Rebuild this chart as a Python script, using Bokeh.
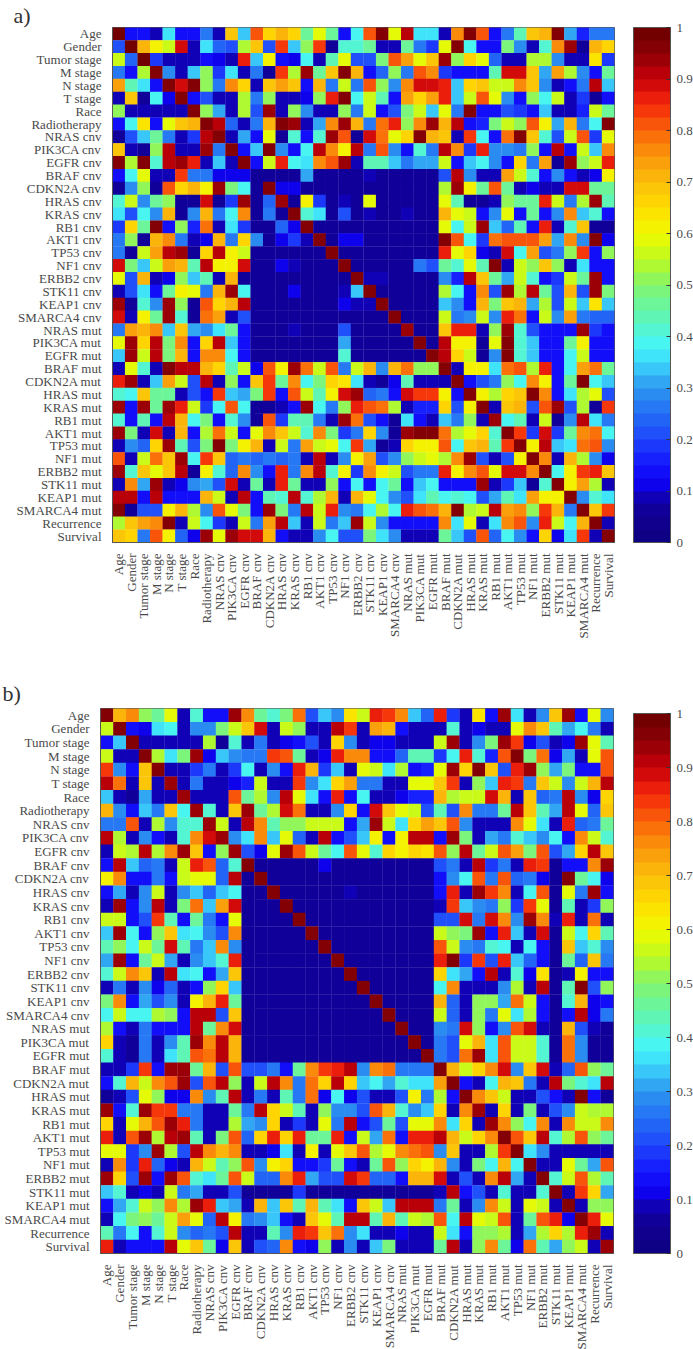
import math
from bokeh.embed import file_html
from bokeh.resources import INLINE
from bokeh.plotting import figure
from bokeh.layouts import column
from bokeh.models import (ColumnDataSource, FactorRange, LinearColorMapper, ColorBar,
                          FixedTicker, Title)

labels = ["Age", "Gender", "Tumor stage", "M stage", "N stage", "T stage", "Race", "Radiotherapy",
          "NRAS cnv", "PIK3CA cnv", "EGFR cnv", "BRAF cnv", "CDKN2A cnv", "HRAS cnv", "KRAS cnv",
          "RB1 cnv", "AKT1 cnv", "TP53 cnv", "NF1 cnv", "ERBB2 cnv", "STK11 cnv", "KEAP1 cnv",
          "SMARCA4 cnv", "NRAS mut", "PIK3CA mut", "EGFR mut", "BRAF mut", "CDKN2A mut", "HRAS mut",
          "KRAS mut", "RB1 mut", "AKT1 mut", "TP53 mut", "NF1 mut", "ERBB2 mut", "STK11 mut",
          "KEAP1 mut", "SMARCA4 mut", "Recurrence", "Survival"]

# values in percent, one row per label
matrix_a = [
[98,15,15,8,37,15,15,27,8,70,33,82,66,72,65,47,60,45,14,38,80,97,60,90,37,36,8,76,97,80,13,25,43,70,72,97,32,17,26,27],
[20,98,71,62,55,88,8,37,24,22,53,68,20,84,33,52,83,7,42,40,45,9,9,45,26,18,58,97,38,14,14,48,29,8,40,76,93,7,72,66],
[55,24,98,18,9,8,8,13,12,8,86,33,62,13,11,38,9,43,58,20,22,48,80,73,58,69,94,50,67,58,24,9,9,53,54,29,8,8,63,19],
[27,13,54,97,30,8,35,50,18,37,9,25,7,83,54,95,47,68,97,71,14,23,52,25,81,76,18,13,13,13,44,88,88,69,32,74,54,29,13,47],
[73,44,36,13,97,89,97,50,26,75,67,8,69,73,68,13,72,25,56,27,81,50,28,77,88,88,87,33,67,68,56,55,77,68,28,8,13,27,90,35],
[8,68,7,39,11,96,13,22,9,8,54,27,50,8,8,12,52,86,97,39,56,43,14,73,67,73,87,34,57,80,60,28,13,50,38,56,8,18,7,13],
[52,8,8,8,8,8,97,52,32,8,54,20,95,8,50,28,8,8,50,27,56,13,21,49,55,33,58,27,96,13,13,20,18,15,33,9,9,17,57,46],
[13,38,64,13,58,69,72,96,91,23,8,27,72,97,93,9,31,75,94,72,27,78,85,50,77,93,71,92,13,17,48,55,50,81,62,31,72,27,38,96],
[7,22,35,45,27,8,18,92,96,8,32,13,58,7,40,13,42,94,82,7,88,78,58,66,96,72,69,9,84,38,13,78,96,70,41,20,57,81,18,60],
[68,9,7,52,91,8,8,95,27,96,13,35,97,30,13,38,90,76,62,90,26,80,28,13,40,27,92,76,18,86,29,28,27,52,14,91,13,55,33,77],
[97,53,97,41,91,95,86,8,33,9,96,13,56,87,38,36,77,80,93,8,44,44,34,25,32,32,56,13,33,39,29,13,66,26,74,7,93,50,56,87],
[13,39,58,8,9,84,26,26,12,12,11,6,6,6,6,32,5,5,5,5,8,5,5,5,5,5,22,92,28,8,8,74,55,42,13,28,13,9,12,61],
[7,28,52,7,80,66,71,61,93,48,38,6,97,12,12,5,5,5,5,5,5,5,5,6,6,6,54,95,61,46,80,47,8,11,9,9,88,88,45,47],
[40,55,30,46,50,7,7,89,7,18,94,6,24,95,7,62,19,5,8,5,60,5,5,5,5,5,60,43,7,7,8,52,45,46,85,57,27,53,94,43],
[36,21,38,30,71,7,30,72,27,39,75,6,25,6,96,42,36,5,20,5,8,5,5,8,5,5,72,60,55,14,28,58,13,45,14,28,76,33,40,13],
[18,67,47,97,13,52,17,79,9,37,19,6,6,24,12,96,5,5,5,5,5,5,5,5,5,5,58,38,56,94,34,24,43,13,85,8,40,70,7,7],
[26,52,7,71,75,27,8,12,71,26,66,30,6,10,18,8,96,6,10,10,5,5,5,5,5,5,96,82,38,18,78,82,82,81,74,31,76,29,96,12],
[25,7,56,74,91,95,7,65,92,61,56,6,5,5,5,5,5,96,5,5,5,5,5,5,5,5,87,60,66,12,8,89,38,73,20,27,50,83,13,50],
[88,49,33,57,73,72,44,91,62,61,89,6,5,11,8,5,7,6,96,6,7,7,7,6,25,20,47,40,60,44,97,9,55,50,68,52,8,37,13,13],
[58,20,71,9,11,52,33,44,8,72,5,5,5,5,5,7,5,5,7,97,9,9,7,7,5,5,30,17,91,69,46,32,57,40,13,19,56,45,93,13],
[9,20,36,13,45,61,60,26,71,93,39,5,5,5,11,7,5,5,8,33,96,5,5,5,5,5,54,38,13,76,22,94,54,91,46,20,71,21,93,49],
[95,7,42,28,95,52,7,82,67,71,92,5,5,5,5,5,5,5,11,9,8,96,5,5,5,5,33,28,13,71,49,68,72,31,54,20,57,33,63,35],
[88,8,61,47,95,41,7,79,74,8,22,5,5,5,5,5,5,5,5,5,5,5,96,5,5,5,56,26,28,55,29,87,78,13,55,28,74,27,24,24],
[27,73,71,76,33,70,32,28,36,45,13,5,6,6,8,5,5,5,22,5,7,5,5,95,5,5,68,86,87,8,52,95,40,22,13,13,14,93,19,13],
[60,95,66,91,49,75,13,66,91,34,13,5,5,5,5,5,5,5,32,5,5,5,5,5,96,5,90,62,62,7,58,96,41,33,13,13,46,61,13,13],
[33,95,57,91,48,72,13,76,77,38,13,5,5,5,5,5,5,5,42,5,5,5,5,5,5,96,92,66,56,7,30,96,42,35,13,13,38,57,13,13],
[8,58,42,9,96,91,91,71,67,43,56,12,81,62,93,79,56,80,25,56,72,28,72,79,50,50,96,8,61,61,36,79,82,53,85,13,38,73,78,46],
[86,95,9,35,73,55,20,92,9,51,13,68,83,46,75,38,48,66,64,37,9,7,12,44,8,8,8,96,13,21,27,52,38,75,62,13,46,97,38,33],
[42,39,70,46,47,8,20,14,83,33,32,48,84,14,80,55,43,62,89,95,24,25,13,88,84,84,62,13,96,61,54,65,70,96,77,13,37,53,60,21],
[95,14,93,46,93,87,56,18,39,80,38,7,7,8,13,95,38,25,52,87,82,79,54,9,17,17,65,20,62,96,8,70,72,20,81,93,21,54,7,84],
[42,13,43,13,90,71,38,48,13,42,29,7,81,19,43,44,27,8,95,78,20,14,7,37,13,8,35,27,50,8,95,38,44,8,56,7,29,90,37,25],
[93,48,8,89,8,71,14,54,79,55,13,60,77,68,56,42,75,49,19,25,67,28,7,93,96,96,78,53,60,66,41,96,83,18,88,18,46,76,78,38],
[8,28,24,65,95,44,22,48,96,49,62,72,8,57,26,74,55,59,38,84,31,7,8,67,61,61,80,38,68,71,44,84,97,62,90,33,36,78,81,28],
[82,8,55,78,68,95,38,83,68,24,27,23,27,23,27,8,91,8,28,61,73,21,28,50,55,59,54,75,95,22,9,21,62,96,75,8,72,53,30,12],
[95,42,69,60,70,91,7,61,42,24,76,28,13,87,25,76,91,40,62,18,76,62,57,21,26,26,87,62,77,80,58,88,88,76,97,38,61,83,87,69],
[9,76,31,95,9,11,28,31,22,88,8,45,9,86,45,8,8,50,13,38,13,39,47,13,35,38,13,13,13,93,8,19,33,7,40,96,62,73,53,8],
[92,92,14,92,13,13,13,72,56,9,91,13,43,41,92,42,54,71,8,71,58,38,28,20,37,44,39,40,38,22,31,44,36,73,61,61,97,28,40,36],
[96,7,22,22,61,71,53,28,82,60,48,13,94,48,27,91,55,85,30,25,39,53,38,85,80,78,72,96,53,57,90,74,77,52,83,72,27,97,70,83],
[53,70,73,76,96,8,56,38,19,8,56,27,74,91,35,9,57,27,33,95,56,28,14,14,14,14,76,37,60,8,37,77,81,28,87,55,38,71,96,8],
[70,65,27,81,62,23,10,95,60,93,88,88,71,13,9,8,30,38,20,21,48,36,28,8,8,8,46,33,22,82,23,38,28,13,67,10,36,84,8,96],
]

matrix_b = [
[97,72,76,52,45,60,9,40,13,13,93,77,47,42,48,79,20,33,28,64,56,87,83,76,33,23,85,19,8,63,13,93,37,8,28,68,95,13,58,28],
[56,97,13,12,37,38,9,30,28,48,56,70,89,9,56,52,8,8,92,84,8,74,72,13,9,9,9,40,8,11,9,9,58,77,68,43,31,39,25,8],
[13,33,96,8,8,8,8,9,53,7,41,9,27,8,12,13,22,9,66,29,8,10,10,8,8,8,56,93,8,29,48,94,83,10,22,8,12,94,58,43],
[56,8,9,96,54,36,48,94,11,33,28,25,27,83,80,46,8,12,87,75,77,13,13,23,43,44,18,38,87,42,17,80,96,48,78,12,31,9,60,81],
[83,30,13,68,96,9,8,18,26,8,19,38,9,29,14,87,71,19,35,8,60,56,36,54,13,17,58,95,65,96,68,21,87,93,50,31,48,13,13,82],
[91,79,8,68,8,95,8,27,9,8,11,17,56,8,9,84,29,37,65,74,25,26,9,9,58,58,68,84,8,50,35,87,83,26,69,57,28,56,71,91],
[33,8,7,32,8,8,95,9,9,8,82,47,53,28,92,58,36,13,87,13,38,8,8,10,17,17,71,53,55,57,89,72,8,68,24,27,90,28,10,67],
[71,29,13,34,27,68,38,95,40,8,68,93,47,54,88,78,9,8,29,65,13,88,69,58,56,22,44,22,76,27,27,46,92,70,43,31,92,60,23,68],
[25,27,82,8,54,28,40,40,95,56,9,92,77,44,52,50,56,56,56,13,32,94,57,37,66,74,70,80,28,8,8,9,76,58,36,8,86,23,26,47],
[92,53,8,28,14,9,41,75,89,95,28,36,76,35,60,24,9,91,14,20,34,61,13,61,92,92,13,93,49,8,31,27,42,33,28,38,13,77,57,41],
[9,57,53,90,54,77,94,70,13,52,95,22,12,60,95,81,57,46,38,80,58,40,67,62,65,64,80,50,91,45,55,81,73,49,81,22,32,66,92,68],
[13,92,35,24,25,9,55,85,81,23,40,96,5,5,5,5,5,10,5,5,5,5,5,5,5,5,22,27,8,90,19,25,8,87,84,6,13,13,75,94],
[61,77,13,13,27,13,57,60,58,24,91,6,96,5,5,5,5,5,5,5,5,5,5,5,5,5,13,29,38,82,25,80,23,27,12,6,96,46,38,12],
[13,32,8,29,57,8,28,33,24,34,38,5,5,96,5,5,5,5,5,9,5,5,5,5,5,5,13,87,8,94,84,76,8,38,80,6,60,27,93,13],
[9,94,13,28,91,9,48,78,33,73,88,5,5,5,96,5,6,5,5,5,5,5,5,5,5,5,9,83,33,30,26,50,18,84,60,6,43,9,18,50],
[55,55,13,22,83,44,13,47,26,13,58,5,5,5,5,96,5,5,5,5,5,5,5,5,5,5,22,22,88,27,89,76,29,93,77,9,85,8,78,8],
[33,93,38,13,52,69,37,39,30,21,76,5,5,5,5,5,96,5,5,5,5,5,5,5,5,5,56,50,48,94,14,87,33,9,88,6,57,38,65,44],
[44,51,39,57,45,88,44,26,33,76,29,5,5,5,5,5,5,96,5,5,5,5,5,5,5,5,81,57,28,26,42,39,8,39,13,6,70,33,42,28],
[32,94,13,47,55,31,8,30,35,40,85,5,5,5,5,5,5,5,96,5,5,5,5,5,5,5,85,96,18,84,22,87,33,23,13,6,47,24,68,26],
[42,57,75,70,8,92,37,38,13,32,68,5,5,5,5,5,5,5,5,96,5,5,5,5,5,5,65,37,31,13,91,9,42,12,64,6,8,62,13,13],
[8,26,8,29,11,23,9,13,52,65,33,5,5,5,5,5,5,5,5,5,96,5,5,5,5,5,38,75,9,9,9,29,53,9,92,6,44,96,20,50],
[48,75,13,31,20,28,8,61,72,87,46,5,5,5,5,5,5,5,5,5,5,96,5,5,5,5,71,23,8,50,50,31,79,56,13,6,40,71,12,13],
[38,55,38,38,54,50,13,90,90,22,68,5,5,5,5,5,5,5,5,5,5,5,96,5,5,5,57,24,8,50,26,59,36,54,13,6,13,92,12,26],
[53,13,8,27,13,13,13,91,46,75,88,5,5,5,5,5,5,5,5,5,5,5,5,96,5,5,30,26,88,50,13,30,80,88,9,6,71,21,8,7],
[66,8,7,27,8,30,44,95,75,91,71,5,5,5,5,5,5,5,5,5,5,5,5,5,96,5,25,20,60,72,36,82,56,56,42,6,78,28,7,7],
[40,8,7,27,8,36,44,82,78,91,71,5,5,5,5,5,5,5,5,5,5,5,5,5,5,96,25,20,78,95,36,82,56,55,42,6,78,28,7,7],
[8,9,18,83,13,93,95,46,71,22,80,22,22,27,13,46,77,83,85,90,30,76,78,27,27,27,97,72,55,66,76,88,29,70,89,8,24,80,52,46],
[13,42,72,56,77,82,93,22,81,92,50,9,56,91,75,27,78,66,91,66,33,38,31,42,37,37,73,96,13,8,39,72,69,27,9,92,48,40,37,91],
[7,8,20,58,52,10,12,77,28,44,91,8,25,8,44,27,78,10,38,10,20,8,8,20,62,27,53,13,96,75,68,55,8,8,21,13,8,96,13,7],
[95,13,42,94,84,84,25,27,8,8,45,25,92,67,56,44,8,52,28,28,21,80,72,40,30,34,67,8,76,95,9,67,8,48,9,21,28,57,54,54],
[65,8,58,71,82,94,87,27,8,8,53,31,30,66,9,18,9,58,27,91,13,21,47,21,60,59,76,37,67,8,95,75,52,39,75,8,76,56,55,76],
[86,8,80,95,53,91,95,44,9,48,81,24,66,85,66,85,47,45,86,13,56,31,79,13,87,87,90,71,55,67,76,97,81,70,90,41,54,80,52,47],
[58,58,18,28,94,53,22,91,77,71,76,9,9,10,37,8,61,8,58,68,80,53,59,76,78,82,30,69,8,8,53,84,96,36,30,8,9,8,8,9],
[8,77,18,87,24,12,8,72,57,43,52,81,30,62,67,13,13,18,46,13,9,45,80,52,66,61,71,29,8,48,38,72,39,96,8,8,60,47,32,80],
[95,67,22,95,13,94,80,41,36,47,82,56,23,24,76,86,32,21,21,88,84,24,23,13,72,71,89,8,20,8,77,90,31,9,96,41,55,80,53,43],
[35,40,8,11,8,56,27,31,8,8,22,6,6,6,6,18,6,6,6,6,6,6,6,6,6,6,9,92,13,20,8,40,8,8,42,96,9,84,66,31],
[13,32,40,56,52,77,54,93,86,33,31,9,72,35,68,43,71,43,36,13,68,57,34,90,92,90,25,47,8,28,76,55,9,60,55,9,97,9,50,52],
[8,38,48,52,47,57,73,60,24,92,62,25,30,34,13,8,68,60,44,90,92,44,72,43,55,53,80,38,92,58,57,80,8,46,81,85,10,96,87,58],
[44,26,38,13,41,57,29,24,25,22,92,8,8,43,28,86,84,69,79,28,36,8,8,12,8,8,55,37,13,52,52,53,8,32,53,67,53,87,95,8],
[87,9,13,13,13,91,60,68,45,12,68,8,21,23,77,14,10,52,8,29,9,34,49,9,9,9,45,91,9,50,75,46,12,79,44,31,52,57,8,95],
]

# colour scale stops (value, r, g, b) of the reference's jet-like bar
stops = [(0, 14, 0, 128), (.05, 16, 0, 145), (.08, 16, 0, 165), (.11, 14, 0, 235), (.15, 20, 20, 255),
         (.2, 30, 70, 250), (.25, 35, 110, 245), (.3, 45, 150, 240), (.35, 60, 215, 250), (.38, 70, 245, 250),
         (.43, 90, 245, 190), (.5, 130, 245, 110), (.55, 190, 250, 30), (.6, 240, 250, 0), (.65, 255, 220, 0),
         (.7, 250, 190, 10), (.75, 250, 150, 10), (.8, 250, 100, 10), (.85, 245, 40, 10), (.9, 200, 0, 10),
         (.95, 140, 0, 5), (1, 105, 0, 0)]


def col(t):
    for (a, *ca), (b, *cb) in zip(stops, stops[1:]):
        if t <= b:
            f = (t - a) / (b - a)
            return "#%02x%02x%02x" % tuple(round(x + f * (y - x)) for x, y in zip(ca, cb))
    return "#690000"


palette = [col((i + .5) / 40) for i in range(40)]
FONT = "Liberation Serif"
TXT = "#4a4a4a"


def panel(matrix, letter, width, height, left, top, fw, fh, cb_h, cb_gap, loff, stand):
    xs, ys, vs = [], [], []
    for i, row in enumerate(matrix):
        for j, v in enumerate(row):
            xs.append(labels[j]); ys.append(labels[i]); vs.append(v / 100)
    src = ColumnDataSource(dict(x=xs, y=ys, v=vs))
    mapper = LinearColorMapper(palette=palette, low=0, high=1)
    p = figure(width=width, height=height, frame_width=fw, frame_height=fh,
               x_range=FactorRange(factors=labels, range_padding=0),
               y_range=FactorRange(factors=labels[::-1], range_padding=0),
               output_backend="svg", toolbar_location=None, min_border_left=left,
               min_border_top=top, min_border_bottom=height - top - fh, min_border_right=width - left - fw,
               outline_line_color="#555555", background_fill_color=None, border_fill_color=None)
    p.frame_align = False
    fill = {"field": "v", "transform": mapper}
    p.rect("x", "y", 1.02, 1.02, source=src, fill_color=fill, line_color=None)
    p.grid.visible = False
    for ax in (p.xaxis[0], p.yaxis[0]):
        ax.major_label_text_font = FONT
        ax.major_label_text_font_size = "13px"
        ax.major_label_text_color = TXT
        ax.major_tick_line_color = None
        ax.minor_tick_line_color = None
        ax.axis_line_color = "#555555"
        ax.major_label_standoff = 5
    p.xaxis[0].major_label_orientation = math.pi / 2
    cb = ColorBar(color_mapper=mapper, ticker=FixedTicker(ticks=[i / 10 for i in range(11)]),
                  width=37, height=cb_h, location=(fw + cb_gap, 0), margin=0, padding=0,
                  major_label_text_font=FONT, major_label_text_font_size="13px",
                  major_label_text_color=TXT, major_tick_line_color="#333333", major_tick_in=4,
                  minor_tick_line_color=None, bar_line_color="#555555", label_standoff=6,
                  background_fill_color=None, border_line_color=None,
                  major_label_overrides={0: "0", 1: "1"})
    p.add_layout(cb)
    p.add_layout(Title(text=letter, align="left", offset=loff, text_font=FONT, text_font_size="22px",
                       text_font_style="normal", text_color="#333333", standoff=stand), "above")
    return p


a = panel(matrix_a, "a)", 693, 668, 112, 27, 502, 515, 515, 19, -99, 0)
b = panel(matrix_b, "b)", 693, 681, 100, 40, 513, 545, 540, 20, -98, 6)
page = column(a, b, spacing=0)
open("out.html", "w").write(file_html(page, INLINE))
